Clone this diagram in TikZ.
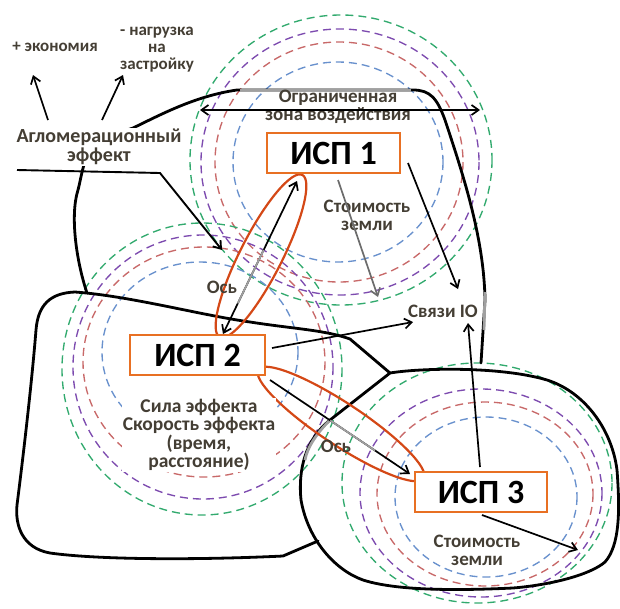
\documentclass[tikz,border=0pt]{standalone}
\usepackage{fontspec}
\setmainfont{Carlito}
\usetikzlibrary{arrows.meta,calc}
\definecolor{cgreen}{RGB}{50,170,110}
\definecolor{cpurple}{RGB}{125,75,175}
\definecolor{cred}{RGB}{200,105,105}
\definecolor{cblue}{RGB}{105,145,205}
\definecolor{corange}{RGB}{232,112,35}
\definecolor{cell}{RGB}{212,72,22}
\definecolor{ctext}{RGB}{68,62,52}
\definecolor{cgray}{RGB}{160,160,160}
\begin{document}
\begin{tikzpicture}[x=1pt,y=-1pt,
  ring/.style={dash pattern=on 8pt off 5pt, line width=1.35pt},
  terr/.style={line width=2.8pt, draw=black, line join=round, line cap=round},
  terrgray/.style={line width=2.8pt, draw=cgray, line cap=butt},
  ispbox/.style={draw=corange, line width=2pt, fill=white, minimum width=133pt, minimum height=40pt, inner sep=0pt, font=\fontsize{34}{34}\selectfont\bfseries, text=black},
  lbl/.style={text=ctext, font=\bfseries\fontsize{19}{18}\selectfont, align=center, inner sep=1pt},
  arr/.style={line width=1.7pt, -{Straight Barb[length=7pt,width=10pt]}},
  darr/.style={line width=1.7pt, {Straight Barb[length=7pt,width=10pt]}-{Straight Barb[length=7pt,width=10pt]}},
  oval/.style={draw=cell, line width=2.2pt}]
\useasboundingbox (0,0) rectangle (620,608);

% --- rings ISP1
\draw[ring,cblue]   (338,162) ellipse (105 and 100);
\draw[ring,cred]    (339,162) ellipse (124 and 120);
\draw[ring,cpurple] (340,162) ellipse (139 and 133);
\draw[ring,cgreen]  (341,160) ellipse (151 and 145);
% --- rings ISP2
\draw[ring,cblue]   (200,352) ellipse (98 and 90);
\draw[ring,cred]    (204,362) ellipse (121 and 115);
\draw[ring,cpurple] (203,367) ellipse (130 and 132);
\draw[ring,cgreen]  (202,369) ellipse (140 and 146);
% --- rings ISP3
\draw[ring,cblue]   (486,497) ellipse (91 and 80);
\draw[ring,cred]    (485,494) ellipse (108 and 92);
\draw[ring,cpurple] (481,493) ellipse (121 and 104);
\draw[ring,cgreen]  (477,483) ellipse (135 and 120);

% --- territories
% A
\draw[terr] (87,293) .. controls (76,260) and (70,215) .. (78,190)
   .. controls (82,175) and (84,150) .. (100,140)
   .. controls (115,132) and (125,131) .. (133,128)
   .. controls (160,115) and (195,96) .. (237,90) -- (413,90)
   .. controls (430,90) and (437,98) .. (445,120)
   .. controls (465,180) and (484,240) .. (485,300) -- (481,363);
\draw[terrgray] (240,90) -- (411,90);
\draw[terrgray] (485,292) -- (484,330);
% B
\draw[terr] (318,541) -- (283,556) .. controls (200,560) and (100,560) .. (50,553)
   .. controls (22,548) and (15,525) .. (17,505)
   .. controls (24,450) and (32,380) .. (36,330)
   .. controls (38,305) and (50,293) .. (75,292)
   .. controls (130,296) and (200,315) .. (250,322)
   .. controls (295,329) and (325,330) .. (350,339) -- (390,373);
% C
\draw[terr] (390,373) .. controls (420,368) and (500,366) .. (547,380)
   .. controls (585,392) and (612,430) .. (617,470)
   .. controls (620,510) and (620,545) .. (605,562)
   .. controls (590,575) and (550,585) .. (513,588)
   .. controls (470,590) and (400,592) .. (363,580)
   .. controls (335,570) and (308,540) .. (301,500)
   .. controls (298,470) and (305,440) .. (330,420) -- cycle;
\draw[terrgray] (305,460) .. controls (307,448) and (316,434) .. (330,420);

% --- axis ovals
\draw[oval, rotate around={63:(261,256)}] (261,256) ellipse (91 and 21);
\draw[oval, rotate around={-33.4:(341,424)}] (341,424) ellipse (99 and 21);

% --- boxes
\node[ispbox] (isp1) at (333.5,153) {ИСП 1};
\node[ispbox, minimum width=135pt] (isp2) at (197.5,355) {ИСП 2};
\node[ispbox, minimum width=132pt] (isp3) at (481,492) {ИСП 3};

% --- labels
\node[lbl, font=\bfseries\fontsize{17}{17}\selectfont] (econ) at (55,47) {+ экономия};
\node[lbl, font=\bfseries\fontsize{17}{17}\selectfont] (load) at (157,50) {- нагрузка\\на\\застройку};
\node[lbl, fill=white, font=\bfseries\fontsize{20}{19.5}\selectfont] (aglo) at (99,147) {Агломерационный\\эффект};
\node[lbl, font=\bfseries\fontsize{19}{18}\selectfont] (zone) at (338,107) {Ограниченная\\зона воздействия};
\node[lbl] (cost1) at (367,215) {Стоимость\\земли};
\node[lbl] (links) at (443,311) {Связи IO};
\node[lbl] (os1) at (222,287) {Ось};
\node[lbl] (os2) at (336,446) {Ось};
\node[lbl, fill=white, font=\bfseries\fontsize{19.5}{18.5}\selectfont] (force) at (199,435) {Сила эффекта\\Скорость эффекта\\(время,\\расстояние)};
\node[lbl] (cost3) at (477,550) {Стоимость\\земли};

% --- coordinates
\coordinate (c1) at (48,120);
\coordinate (c2) at (33,75);
\coordinate (c3) at (102,120);
\coordinate (c4) at (123,75);
\coordinate (zl) at (200,110);
\coordinate (zr) at (480,110);
\coordinate (u1) at (17,170);
\coordinate (u2) at (160,173);
\coordinate (u3) at (222,250);
\coordinate (a1) at (297,181);
\coordinate (a2) at (223,334);
\coordinate (b1) at (270,380);
\coordinate (b2) at (410,474);
\coordinate (g1) at (338,180);
\coordinate (g2) at (378,297);
\coordinate (k1) at (408,163);
\coordinate (k2) at (458,289);
\coordinate (k3) at (272,348);
\coordinate (k4) at (413,322);
\coordinate (k5) at (480,467);
\coordinate (k6) at (468,323);
\coordinate (s1) at (482,515);
\coordinate (s2) at (578,550);

% --- connectors
\draw[arr] (c1) -- (c2);
\draw[arr] (c3) -- (c4);
\draw[darr] (zl) -- (zr);
\draw[line width=1.9pt, -{Straight Barb[length=7pt,width=10pt]}] (u1) -- (u2) -- (u3);
\draw[darr] (a1) -- (a2);
\draw[line width=1.7pt, cgray] ($(a1)!0.45!(a2)$) -- ($(a1)!0.8!(a2)$);
\draw[arr] (b1) -- (b2);
\draw[line width=1.7pt, cgray] ($(b1)!0.43!(b2)$) -- ($(b1)!0.75!(b2)$);
\draw[arr, draw=gray!85!black] (g1) -- (g2);
\draw[arr] (k1) -- (k2);
\draw[arr] (k3) -- (k4);
\draw[arr] (k5) -- (k6);
\draw[arr] (s1) -- (s2);
\end{tikzpicture}
\end{document}
